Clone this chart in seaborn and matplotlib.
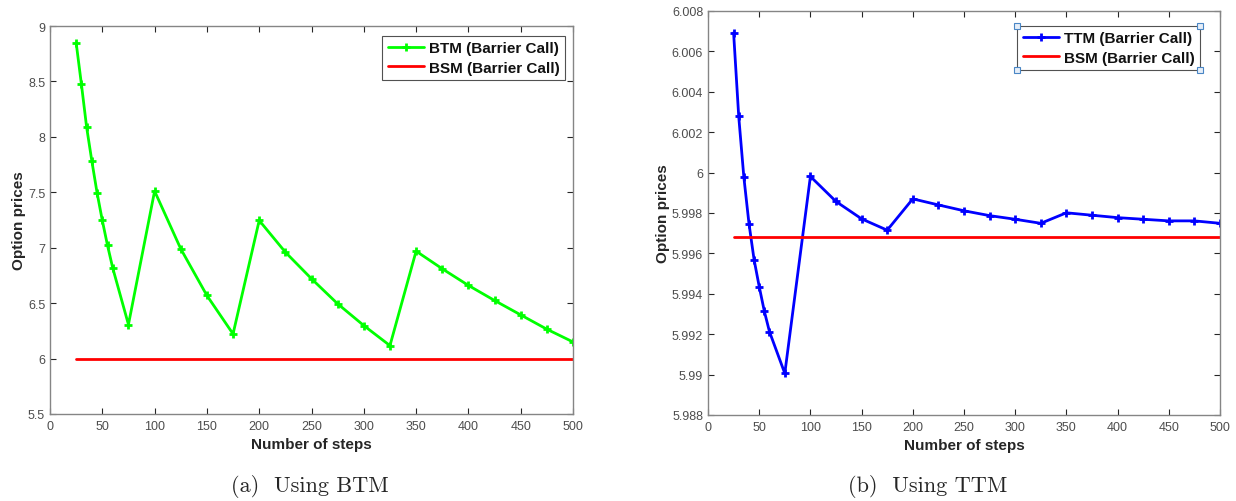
import numpy as np
import pandas as pd
import matplotlib
matplotlib.use("Agg")
import matplotlib.pyplot as plt
import seaborn as sns
from matplotlib.ticker import FuncFormatter, MultipleLocator

# ---- data ----
steps = [25, 30, 35, 40, 45, 50, 55, 60, 75, 100, 125, 150, 175, 200, 225, 250,
         275, 300, 325, 350, 375, 400, 425, 450, 475, 500]
btm_prices = [8.849, 8.477, 8.088, 7.782, 7.495, 7.246, 7.020, 6.816, 6.307, 7.511,
              6.990, 6.569, 6.222, 7.246, 6.960, 6.720, 6.494, 6.298, 6.117, 6.969,
              6.810, 6.660, 6.524, 6.394, 6.265, 6.150]
ttm_prices = [6.00692, 6.00278, 5.99978, 5.99748, 5.99569, 5.99436, 5.99314, 5.99213,
              5.99006, 5.99981, 5.99857, 5.99771, 5.99715, 5.99870, 5.99840, 5.99811,
              5.99787, 5.99769, 5.99749, 5.99801, 5.99789, 5.99777, 5.99769, 5.99761,
              5.99761, 5.99749]
bsm_price = 5.99683
bsm_steps = [25, 500]

series_left = ["BTM (Barrier Call)", "BSM (Barrier Call)"]
series_right = ["TTM (Barrier Call)", "BSM (Barrier Call)"]
captions = ["(a)  Using BTM", "(b)  Using TTM"]
x_label = "Number of steps"
y_label = "Option prices"

sns.set_style("white")
plt.rcParams['font.family'] = ['Liberation Sans', 'DejaVu Sans']

fig = plt.figure(figsize=(12.36, 5.02), dpi=100)
ax1 = fig.add_axes([50/1236, 1-415/502, 523/1236, 388/502])
ax2 = fig.add_axes([708/1236, 1-416/502, 512/1236, 404/502])

df_btm = pd.DataFrame({"steps": steps, "price": btm_prices})
df_ttm = pd.DataFrame({"steps": steps, "price": ttm_prices})
df_bsm = pd.DataFrame({"steps": bsm_steps, "price": [bsm_price] * len(bsm_steps)})


def fmt(v, pos):
    s = ("%.4f" % v).rstrip("0").rstrip(".")
    if s == "-0":
        s = "0"
    return s


def style_axes(ax, ylim, ystep):
    ax.set_xlim(0, 500)
    ax.set_ylim(*ylim)
    ax.xaxis.set_major_locator(MultipleLocator(50))
    ax.yaxis.set_major_locator(MultipleLocator(ystep))
    ax.yaxis.set_major_formatter(FuncFormatter(fmt))
    ax.xaxis.set_major_formatter(FuncFormatter(fmt))
    for sp in ax.spines.values():
        sp.set_visible(True)
        sp.set_color("#858585")
        sp.set_linewidth(1.0)
    ax.tick_params(direction="in", length=4, width=0.8, color="#262626",
                   labelsize=9, labelcolor="#4d4d4d", top=True, right=True,
                   bottom=True, left=True)
    ax.tick_params(axis="x", pad=4)
    ax.set_xlabel(x_label, fontsize=11, fontweight="bold", color="#262626", labelpad=4)
    ax.set_ylabel(y_label, fontsize=11, fontweight="bold", color="#262626", labelpad=1)
    ax.set_facecolor("white")


# Left panel
sns.lineplot(data=df_btm, x="steps", y="price", ax=ax1, color="#00ff00", lw=2,
             marker="+", markersize=6, markeredgewidth=2, markeredgecolor="#00ff00",
             label=series_left[0])
sns.lineplot(data=df_bsm, x="steps", y="price", ax=ax1, color="#ff0000", lw=2,
             label=series_left[1])
style_axes(ax1, (5.5, 9), 0.5)

# Right panel
sns.lineplot(data=df_ttm, x="steps", y="price", ax=ax2, color="#0000ff", lw=2,
             marker="+", markersize=6, markeredgewidth=2, markeredgecolor="#0000ff",
             label=series_right[0])
sns.lineplot(data=df_bsm, x="steps", y="price", ax=ax2, color="#ff0000", lw=2,
             label=series_right[1])
style_axes(ax2, (5.988, 6.008), 0.002)

legs = []
for ax, anchor in [(ax1, (565/1236, 1-37/502)), (ax2, (1200/1236, 1-27/502))]:
    leg = ax.legend(loc="upper right", bbox_to_anchor=anchor,
                    bbox_transform=fig.transFigure, fancybox=False,
                    frameon=True, edgecolor="#262626", borderaxespad=0,
                    handlelength=2.4, handletextpad=0.3, borderpad=0.35,
                    labelspacing=0.35, prop={"weight": "bold", "size": 11})
    leg.get_frame().set_linewidth(0.8)
    for t in leg.get_texts():
        t.set_color("#111111")
    legs.append(leg)

# selection handles around right legend
fig.canvas.draw()
bb = legs[1].get_window_extent().transformed(fig.transFigure.inverted())
for (hx, hy) in [(bb.x0, bb.y0), (bb.x0, bb.y1), (bb.x1, bb.y0), (bb.x1, bb.y1)]:
    fig.add_artist(plt.Line2D([hx], [hy], marker="s", markersize=4,
                              markerfacecolor="#e6eef8", markeredgecolor="#4a86c5",
                              markeredgewidth=0.8, transform=fig.transFigure))

for cx, text in zip([310/1236, 928/1236], captions):
    fig.text(cx, 1-487/502, text, ha="center", va="center", fontsize=16,
             family=["cmr10", "DejaVu Serif"])

fig.savefig("out.png", dpi=100, facecolor="white")
